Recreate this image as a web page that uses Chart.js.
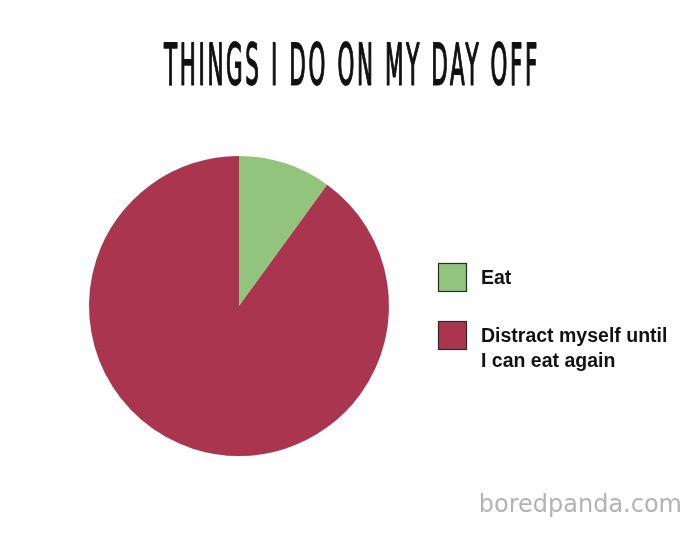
<!DOCTYPE html>
<html>
<head>
<meta charset="utf-8">
<script src="https://cdn.jsdelivr.net/npm/chart.js@4/dist/chart.umd.min.js"></script>
<style>
  html, body { margin: 0; padding: 0; background: #fff; }
  #wrap { width: 700px; height: 536px; position: relative; }
</style>
</head>
<body>
<div id="wrap"><canvas id="chart" width="700" height="536"></canvas></div>
<script>
// chart data
const labels = ['Eat', ['Distract myself until', 'I can eat again']];
const values = [10, 90];
const colors = ['#93c47d', '#a9354f'];
const titleText = 'THINGS I DO ON MY DAY OFF';
const creditText = 'boredpanda.com';

// tall narrow hand-lettered looking title
const titlePlugin = {
    id: 'tallTitle',
    afterDraw(chart) {
        const ctx = chart.ctx;
        ctx.save();
        ctx.font = 'normal 36px "DejaVu Sans Condensed", "Liberation Sans Narrow", sans-serif';
        ctx.letterSpacing = '4px';
        ctx.fillStyle = '#111';
        ctx.strokeStyle = '#111';
        ctx.lineWidth = 1.1;
        ctx.lineJoin = 'round';
        ctx.textBaseline = 'alphabetic';
        const w = ctx.measureText(titleText).width;
        const targetW = 376;
        ctx.translate(350 + 2, 85);
        ctx.scale(targetW / w, 1.6);
        ctx.textAlign = 'center';
        ctx.fillText(titleText, 0, 0);
        ctx.strokeText(titleText, 0, 0);
        ctx.restore();

        // credit line
        ctx.save();
        ctx.font = '24px "DejaVu Sans", Verdana, sans-serif';
        ctx.fillStyle = '#b3b3b3';
        ctx.textAlign = 'right';
        ctx.fillText(creditText, 682, 512);
        ctx.restore();
    }
};

// legend at the right, supports two-line labels
const sideLegend = {
    id: 'sideLegend',
    afterDraw(chart) {
        const ctx = chart.ctx;
        const ds = chart.data.datasets[0];
        const tops = [263, 321];
        ctx.save();
        chart.data.labels.forEach((lab, i) => {
            const y = tops[i];
            ctx.fillStyle = ds.backgroundColor[i];
            ctx.fillRect(438, y, 29, 29);
            ctx.strokeStyle = '#2a2a2a';
            ctx.lineWidth = 1.2;
            ctx.strokeRect(438.5, y + 0.5, 28, 28);

            ctx.fillStyle = '#111';
            ctx.font = 'bold 19.5px "Liberation Sans", Arial, sans-serif';
            ctx.textAlign = 'left';
            const lines = Array.isArray(lab) ? lab : [lab];
            lines.forEach((t, j) => {
                ctx.fillText(t, 481, y + 21 + j * 25);
            });
        });
        ctx.restore();
    }
};

new Chart(document.getElementById('chart'), {
    type: 'pie',
    data: {
        labels: labels,
        datasets: [{
            data: values,
            backgroundColor: colors,
            borderWidth: 0
        }]
    },
    options: {
        responsive: false,
        animation: false,
        layout: {
            padding: { left: 89, right: 311, top: 156, bottom: 80 }
        },
        plugins: {
            legend: { display: false },
            tooltip: { enabled: false }
        }
    },
    plugins: [titlePlugin, sideLegend]
});
</script>
</body>
</html>
